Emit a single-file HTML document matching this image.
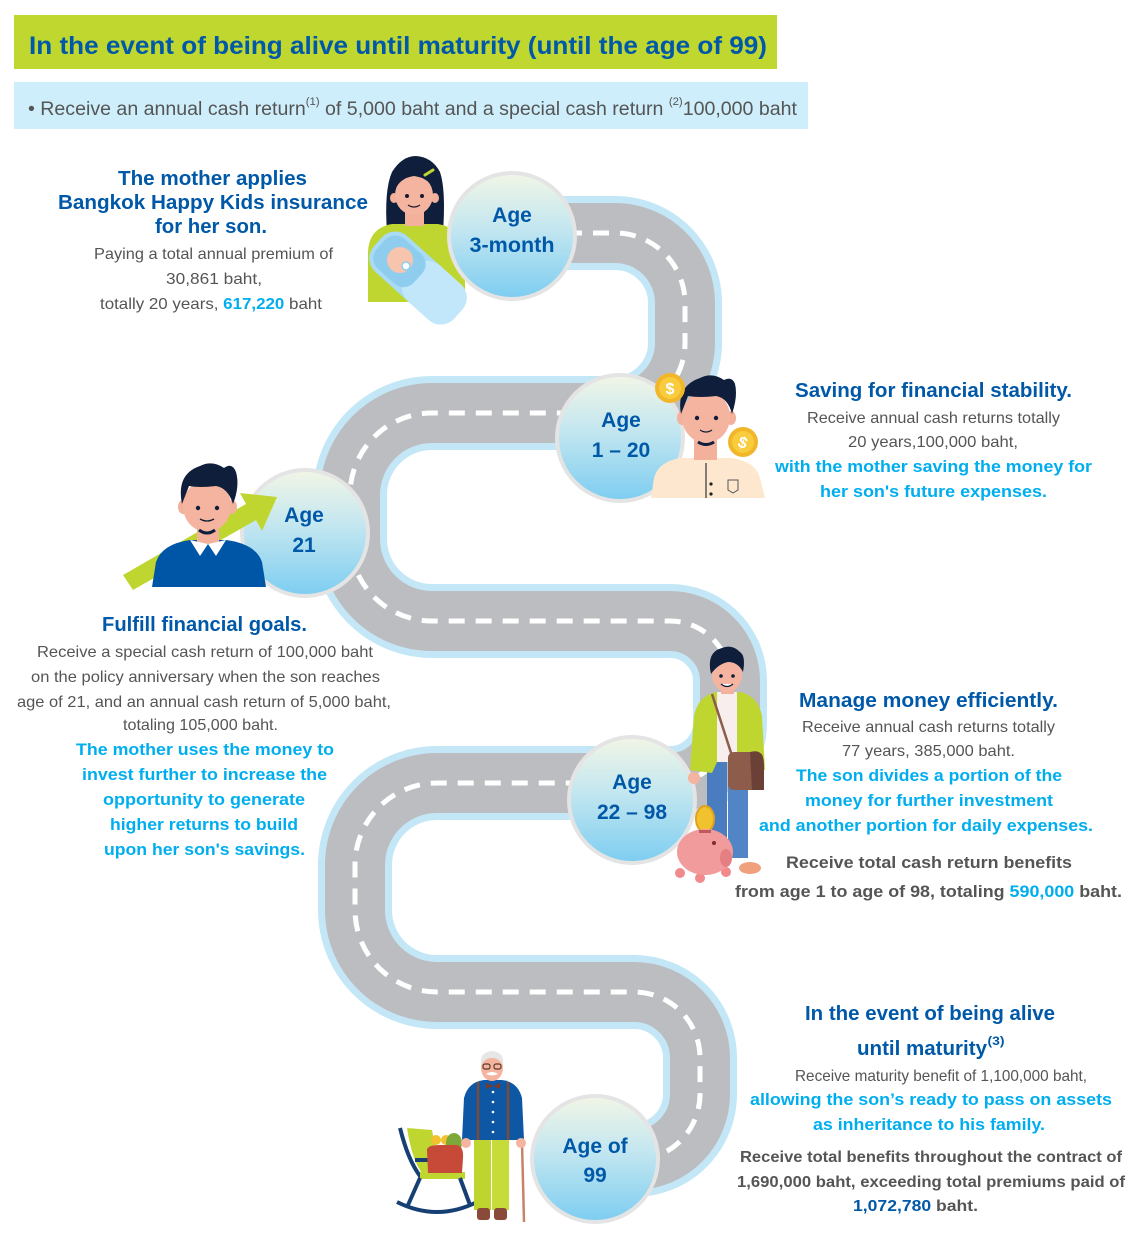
<!DOCTYPE html>
<html><head><meta charset="utf-8">
<style>
html,body{margin:0;padding:0;background:#fff;}
svg{display:block;}
text{font-family:"Liberation Sans",Arial,sans-serif;}
</style></head><body>
<svg width="1140" height="1260" viewBox="0 0 1140 1260" xmlns="http://www.w3.org/2000/svg">
<defs>
<linearGradient id="cg" x1="0" y1="0" x2="0" y2="1">
<stop offset="0" stop-color="#f2f6e6"/>
<stop offset="0.45" stop-color="#c2e6f0"/>
<stop offset="1" stop-color="#7dcdf1"/>
</linearGradient>
</defs>
<rect width="1140" height="1260" fill="#fff"/>

<!-- Header -->
<rect x="14" y="15" width="763" height="54" fill="#c0d72f"/>
<text x="398" y="54" font-size="25" font-weight="bold" fill="#0058a8" text-anchor="middle" textLength="738" lengthAdjust="spacingAndGlyphs">In the event of being alive until maturity (until the age of 99)</text>
<rect x="14" y="82" width="794" height="47" fill="#cdeefa"/>
<text x="28" y="115" font-size="19" fill="#555" textLength="769" lengthAdjust="spacingAndGlyphs">• Receive an annual cash return<tspan font-size="11" dy="-10">(1)</tspan><tspan dy="10"> of 5,000 baht and a special cash return </tspan><tspan font-size="11" dy="-10">(2)</tspan><tspan dy="10">100,000 baht</tspan></text>

<!-- Road -->
<g fill="none">
<path d="M512 233 H615 A70 70 0 0 1 685 303 V343 A70 70 0 0 1 615 413 H432 A82 82 0 0 0 350 495 V539 A82 82 0 0 0 432 621 H670 A60 60 0 0 1 730 681 V723 A60 60 0 0 1 670 783 H437 A82 82 0 0 0 355 865 V910 A82 82 0 0 0 437 992 H634 A66 66 0 0 1 700 1058 V1094 A66 66 0 0 1 634 1160 H595" stroke="#c4e7f7" stroke-width="74"/>
<path d="M512 233 H615 A70 70 0 0 1 685 303 V343 A70 70 0 0 1 615 413 H432 A82 82 0 0 0 350 495 V539 A82 82 0 0 0 432 621 H670 A60 60 0 0 1 730 681 V723 A60 60 0 0 1 670 783 H437 A82 82 0 0 0 355 865 V910 A82 82 0 0 0 437 992 H634 A66 66 0 0 1 700 1058 V1094 A66 66 0 0 1 634 1160 H595" stroke="#bcbdc0" stroke-width="60"/>
<path d="M512 233 H615 A70 70 0 0 1 685 303 V343 A70 70 0 0 1 615 413 H432 A82 82 0 0 0 350 495 V539 A82 82 0 0 0 432 621 H670 A60 60 0 0 1 730 681 V723 A60 60 0 0 1 670 783 H437 A82 82 0 0 0 355 865 V910 A82 82 0 0 0 437 992 H634 A66 66 0 0 1 700 1058 V1094 A66 66 0 0 1 634 1160 H595" stroke="#ffffff" stroke-width="5" stroke-dasharray="16 11"/>
</g>

<!-- Mother figure -->
<g>
<path d="M387 232 Q384 190 392 172 Q402 156 416 156 Q432 157 440 172 Q446 190 443 232 Z" fill="#0f1e3b"/>
<path d="M368 302 L368 252 Q369 228 392 224 L438 224 Q462 228 465 252 L465 302 Z" fill="#bfd630"/>
<rect x="405" y="206" width="19" height="20" fill="#f3b09b"/>
<ellipse cx="394" cy="198" rx="4" ry="5" fill="#f3b09b"/>
<ellipse cx="435" cy="198" rx="4" ry="5" fill="#f3b09b"/>
<ellipse cx="414" cy="195" rx="19" ry="20" fill="#f5b49f"/>
<path d="M394 192 Q392 166 414 164 Q437 166 435 192 Q430 178 414 176 Q399 178 394 192 Z" fill="#0f1e3b"/>
<line x1="425" y1="175" x2="433" y2="170" stroke="#bfd630" stroke-width="3" stroke-linecap="round"/>
<circle cx="407" cy="196" r="2" fill="#1a1a2e"/>
<circle cx="422" cy="196" r="2" fill="#1a1a2e"/>
<path d="M408 205 Q414 209 420 205" stroke="#1a1a2e" stroke-width="1.3" fill="none"/>
<g transform="translate(418,278) rotate(42)">
<rect x="-54" y="-24" width="108" height="48" rx="18" fill="#a9dbf5"/>
<rect x="-10" y="-24" width="64" height="48" rx="18" fill="#c3e7fa"/>
<rect x="-50" y="-20" width="50" height="40" rx="14" fill="#8fcdef"/>
</g>
<circle cx="400" cy="260" r="13" fill="#f7c4ad"/>
<circle cx="406" cy="266" r="4" fill="#fff" stroke="#8fcdef" stroke-width="1.5"/>
</g>

<!-- Boy 21 behind-circle? circle first -->
<g stroke="#e4e4e4" stroke-width="4" fill="url(#cg)">
<circle cx="512" cy="236" r="63"/>
<circle cx="305" cy="533" r="63"/>
<circle cx="632" cy="800" r="63"/>
<circle cx="595" cy="1159" r="63"/>
<circle cx="620" cy="438" r="63"/>
</g>

<!-- Circle labels -->
<g font-weight="bold" font-size="21" fill="#0058a8" text-anchor="middle">
<text x="512" y="222">Age</text>
<text x="512" y="252" textLength="85" lengthAdjust="spacingAndGlyphs">3-month</text>
<text x="621" y="427">Age</text>
<text x="621" y="457">1 – 20</text>
<text x="304" y="522">Age</text>
<text x="304" y="552">21</text>
<text x="632" y="789">Age</text>
<text x="632" y="819">22 – 98</text>
<text x="595" y="1153">Age of</text>
<text x="595" y="1182">99</text>
</g>

<!-- Boy 1-20 -->
<g>
<path d="M651 498 L654 478 Q658 462 680 458 L732 458 Q756 462 760 478 L765 498 Z" fill="#fde8cf"/>
<rect x="694" y="432" width="23" height="28" fill="#f3b09b"/>
<ellipse cx="682" cy="418" rx="5" ry="7" fill="#f3b09b"/>
<ellipse cx="731" cy="418" rx="5" ry="7" fill="#f3b09b"/>
<ellipse cx="706" cy="417" rx="24" ry="26" fill="#f5b49f"/>
<path d="M681 414 Q676 386 700 378 Q712 372 724 380 Q732 376 735 384 Q738 396 732 414 Q728 398 716 396 Q700 398 688 396 Z" fill="#0f1e3b"/>
<path d="M698 442 Q706 447 714 442" stroke="#0f1e3b" stroke-width="3" fill="none"/>
<circle cx="697" cy="418" r="2.2" fill="#0f1e3b"/>
<circle cx="716" cy="418" r="2.2" fill="#0f1e3b"/>
<path d="M700 430 Q706 434 712 430" stroke="#0f1e3b" stroke-width="1.3" fill="none"/>
<line x1="706" y1="463" x2="706" y2="498" stroke="#333" stroke-width="1.2"/>
<circle cx="711" cy="484" r="1.6" fill="#222"/>
<circle cx="711" cy="494" r="1.6" fill="#222"/>
<path d="M728 480 H738 V490 L733 493 L728 490 Z" fill="none" stroke="#555" stroke-width="1"/>
<circle cx="670" cy="388" r="15" fill="#f2b62b"/>
<circle cx="670" cy="388" r="11" fill="#f8cc3c"/>
<text x="670" y="394" font-size="16" font-weight="bold" fill="#fff" text-anchor="middle">$</text>
<circle cx="743" cy="442" r="15" fill="#f2b62b"/>
<circle cx="743" cy="442" r="11" fill="#f8cc3c"/>
<text x="743" y="448" font-size="16" font-weight="bold" fill="#fff" text-anchor="middle" transform="rotate(20 743 442)">$</text>
</g>

<!-- Boy 21 -->
<g>
<polygon points="123,575 246,504 240,493 277,497 262,531 256,520 133,590" fill="#bfd630"/>
<path d="M152 587 L156 562 Q162 544 190 540 L226 540 Q256 544 262 562 L266 587 Z" fill="#0056a6"/>
<rect x="197" y="522" width="22" height="22" fill="#f3b09b"/>
<polygon points="190,540 208,544 200,556" fill="#fff"/>
<polygon points="226,540 208,544 216,556" fill="#fff"/>
<ellipse cx="183" cy="507" rx="5" ry="7" fill="#f3b09b"/>
<ellipse cx="232" cy="507" rx="5" ry="7" fill="#f3b09b"/>
<ellipse cx="207" cy="506" rx="24" ry="26" fill="#f5b49f"/>
<path d="M182 504 Q176 474 200 466 Q212 460 224 468 Q232 462 236 472 Q240 486 233 504 Q228 488 216 486 Q200 488 189 486 Z" fill="#0f1e3b"/>
<path d="M199 530 Q207 536 215 530" stroke="#0f1e3b" stroke-width="3" fill="none"/>
<circle cx="198" cy="508" r="2.2" fill="#0f1e3b"/>
<circle cx="217" cy="508" r="2.2" fill="#0f1e3b"/>
<path d="M200 519 Q207 523 214 519" stroke="#0f1e3b" stroke-width="1.3" fill="none"/>
</g>

<!-- Young man 22-98 -->
<g>
<rect x="707" y="760" width="20" height="98" fill="#4a7cc0"/>
<rect x="728" y="760" width="20" height="98" fill="#5285c6"/>
<ellipse cx="750" cy="868" rx="11" ry="6" fill="#f0a07c"/>
<path d="M690 770 L694 716 Q698 696 716 692 L740 692 Q758 696 762 716 L765 770 L742 773 L738 760 L718 760 L712 773 Z" fill="#bfd630"/>
<rect x="717" y="692" width="20" height="70" fill="#f9eeee"/>
<line x1="712" y1="694" x2="734" y2="762" stroke="#8d5c4a" stroke-width="2.5"/>
<rect x="728" y="752" width="35" height="38" rx="6" fill="#8d5c4a"/>
<path d="M750 752 Q764 748 764 765 L764 790 L752 790 Z" fill="#6b4137"/>
<circle cx="694" cy="778" r="6" fill="#f5b49f"/>
<rect x="721" y="684" width="13" height="10" fill="#f3b09b"/>
<ellipse cx="727" cy="675" rx="15" ry="17" fill="#f5b49f"/>
<path d="M711 674 Q706 652 722 648 Q732 644 740 652 Q746 656 743 672 Q738 662 728 662 Q718 664 711 674 Z" fill="#0f1e3b"/>
<circle cx="721" cy="676" r="1.8" fill="#0f1e3b"/>
<circle cx="733" cy="676" r="1.8" fill="#0f1e3b"/>
<path d="M721 684 Q727 689 733 684" stroke="#0f1e3b" stroke-width="1.3" fill="#fff"/>
<ellipse cx="705" cy="819" rx="9" ry="13" fill="#f2c12e" stroke="#e0a21a" stroke-width="2"/>
<ellipse cx="680" cy="873" rx="5" ry="5" fill="#f08a8c"/>
<ellipse cx="700" cy="878" rx="5" ry="5" fill="#f08a8c"/>
<ellipse cx="726" cy="872" rx="5" ry="5" fill="#f08a8c"/>
<ellipse cx="705" cy="852" rx="28" ry="23" fill="#f29b9d"/>
<ellipse cx="726" cy="858" rx="6" ry="9" fill="#e57f82"/>
<rect x="699" y="830" width="12" height="3" fill="#c0585c"/>
<circle cx="714" cy="843" r="2" fill="#7a2e30"/>
</g>

<!-- Old man -->
<g>
<path d="M400 1128 Q408 1160 420 1176 L465 1176" stroke="#163f73" stroke-width="4" fill="none"/>
<path d="M407 1128 Q412 1160 422 1173 L440 1173 L432 1130 Z" fill="#bfd630"/>
<rect x="420" y="1172" width="45" height="7" fill="#bfd630"/>
<path d="M397 1202 Q437 1222 477 1202" stroke="#163f73" stroke-width="4" fill="none"/>
<line x1="420" y1="1178" x2="408" y2="1205" stroke="#163f73" stroke-width="4"/>
<line x1="460" y1="1178" x2="470" y2="1205" stroke="#163f73" stroke-width="4"/>
<line x1="415" y1="1160" x2="462" y2="1160" stroke="#163f73" stroke-width="4"/>
<circle cx="436" cy="1140" r="5" fill="#f2c12e"/>
<circle cx="446" cy="1140" r="5" fill="#f2c12e"/>
<ellipse cx="454" cy="1143" rx="8" ry="10" fill="#7ea83a"/>
<path d="M427 1150 Q427 1145 440 1145 L456 1145 Q464 1146 463 1158 L462 1173 L428 1173 Z" fill="#c74a38"/>
<line x1="522" y1="1142" x2="524" y2="1222" stroke="#c7836a" stroke-width="2.5"/>
<rect x="474" y="1138" width="17" height="72" fill="#bed52f"/>
<rect x="492" y="1138" width="17" height="72" fill="#c7dc3a"/>
<rect x="477" y="1208" width="13" height="12" rx="3" fill="#8a4a3a"/>
<rect x="494" y="1208" width="13" height="12" rx="3" fill="#8a4a3a"/>
<path d="M462 1140 L464 1098 Q468 1082 484 1080 L502 1080 Q518 1082 522 1098 L524 1140 Z" fill="#0d57a5"/>
<line x1="478" y1="1082" x2="478" y2="1140" stroke="#7a4a36" stroke-width="2.5"/>
<line x1="508" y1="1082" x2="508" y2="1140" stroke="#7a4a36" stroke-width="2.5"/>
<g fill="#fff"><circle cx="493" cy="1092" r="1.3"/><circle cx="493" cy="1102" r="1.3"/><circle cx="493" cy="1112" r="1.3"/><circle cx="493" cy="1122" r="1.3"/><circle cx="493" cy="1132" r="1.3"/></g>
<circle cx="466" cy="1143" r="5" fill="#f5b49f"/>
<circle cx="521" cy="1143" r="5" fill="#f5b49f"/>
<path d="M486 1083 L493 1086 L500 1083 L500 1089 L493 1086 L486 1089 Z" fill="#7a3a2a"/>
<ellipse cx="492" cy="1068" rx="11" ry="13" fill="#f5b49f"/>
<path d="M481 1066 Q479 1052 492 1051 Q505 1052 503 1066 Q500 1058 492 1058 Q484 1058 481 1066 Z" fill="#e6e6e6"/>
<rect x="483" y="1064" width="7" height="5" rx="2" fill="none" stroke="#5a3a2a" stroke-width="1.2"/>
<rect x="494" y="1064" width="7" height="5" rx="2" fill="none" stroke="#5a3a2a" stroke-width="1.2"/>
<path d="M486 1074 Q492 1070 498 1074 Q492 1077 486 1074 Z" fill="#fff"/>
</g>

<!-- Mother text block -->
<g text-anchor="middle" lengthAdjust="spacingAndGlyphs">
<text x="212.5" y="185" font-size="20" font-weight="bold" fill="#0058a8" textLength="189" lengthAdjust="spacingAndGlyphs">The mother applies</text>
<text x="213" y="209" font-size="20" font-weight="bold" fill="#0058a8" textLength="310" lengthAdjust="spacingAndGlyphs">Bangkok Happy Kids insurance</text>
<text x="211" y="233" font-size="20" font-weight="bold" fill="#0058a8" textLength="112" lengthAdjust="spacingAndGlyphs">for her son.</text>
<text x="213.5" y="259" font-size="16" fill="#555" textLength="239" lengthAdjust="spacingAndGlyphs">Paying a total annual premium of</text>
<text x="214" y="284" font-size="16" fill="#555" textLength="96" lengthAdjust="spacingAndGlyphs">30,861 baht,</text>
<text x="211" y="309" font-size="16" fill="#555" textLength="222" lengthAdjust="spacingAndGlyphs">totally 20 years, <tspan font-weight="bold" fill="#00aeef">617,220</tspan> baht</text>
</g>

<!-- Right block 1 -->
<g text-anchor="middle">
<text x="933.5" y="397" font-size="20" font-weight="bold" fill="#0058a8" textLength="277" lengthAdjust="spacingAndGlyphs">Saving for financial stability.</text>
<text x="933.5" y="423" font-size="16" fill="#555" textLength="253" lengthAdjust="spacingAndGlyphs">Receive annual cash returns totally</text>
<text x="933" y="447" font-size="16" fill="#555" textLength="170" lengthAdjust="spacingAndGlyphs">20 years,100,000 baht,</text>
<text x="933.5" y="472" font-size="17" font-weight="bold" fill="#00aeef" textLength="317" lengthAdjust="spacingAndGlyphs">with the mother saving the money for</text>
<text x="933.5" y="497" font-size="17" font-weight="bold" fill="#00aeef" textLength="227" lengthAdjust="spacingAndGlyphs">her son's future expenses.</text>
</g>

<!-- Left block 2 -->
<g text-anchor="middle">
<text x="204.5" y="631" font-size="20" font-weight="bold" fill="#0058a8" textLength="205" lengthAdjust="spacingAndGlyphs">Fulfill financial goals.</text>
<text x="205" y="657" font-size="16" fill="#555" textLength="336" lengthAdjust="spacingAndGlyphs">Receive a special cash return of 100,000 baht</text>
<text x="205.5" y="682" font-size="16" fill="#555" textLength="349" lengthAdjust="spacingAndGlyphs">on the policy anniversary when the son reaches</text>
<text x="204" y="707" font-size="16" fill="#555" textLength="374" lengthAdjust="spacingAndGlyphs">age of 21, and an annual cash return of 5,000 baht,</text>
<text x="200.5" y="730" font-size="16" fill="#555" textLength="155" lengthAdjust="spacingAndGlyphs">totaling 105,000 baht.</text>
<text x="205" y="755" font-size="17" font-weight="bold" fill="#00aeef" textLength="258" lengthAdjust="spacingAndGlyphs">The mother uses the money to</text>
<text x="204.5" y="780" font-size="17" font-weight="bold" fill="#00aeef" textLength="245" lengthAdjust="spacingAndGlyphs">invest further to increase the</text>
<text x="204" y="805" font-size="17" font-weight="bold" fill="#00aeef" textLength="202" lengthAdjust="spacingAndGlyphs">opportunity to generate</text>
<text x="204" y="830" font-size="17" font-weight="bold" fill="#00aeef" textLength="188" lengthAdjust="spacingAndGlyphs">higher returns to build</text>
<text x="204.5" y="855" font-size="17" font-weight="bold" fill="#00aeef" textLength="201" lengthAdjust="spacingAndGlyphs">upon her son's savings.</text>
</g>

<!-- Right block 2 -->
<g text-anchor="middle">
<text x="928.5" y="707" font-size="20" font-weight="bold" fill="#0058a8" textLength="259" lengthAdjust="spacingAndGlyphs">Manage money efficiently.</text>
<text x="928.5" y="732" font-size="16" fill="#555" textLength="253" lengthAdjust="spacingAndGlyphs">Receive annual cash returns totally</text>
<text x="928.5" y="756" font-size="16" fill="#555" textLength="173" lengthAdjust="spacingAndGlyphs">77 years, 385,000 baht.</text>
<text x="929" y="781" font-size="17" font-weight="bold" fill="#00aeef" textLength="266" lengthAdjust="spacingAndGlyphs">The son divides a portion of the</text>
<text x="929" y="806" font-size="17" font-weight="bold" fill="#00aeef" textLength="248" lengthAdjust="spacingAndGlyphs">money for further investment</text>
<text x="926" y="831" font-size="17" font-weight="bold" fill="#00aeef" textLength="334" lengthAdjust="spacingAndGlyphs">and another portion for daily expenses.</text>
<text x="929" y="868" font-size="17" font-weight="bold" fill="#555" textLength="286" lengthAdjust="spacingAndGlyphs">Receive total cash return benefits</text>
<text x="928.5" y="897" font-size="17" font-weight="bold" fill="#555" textLength="387" lengthAdjust="spacingAndGlyphs">from age 1 to age of 98, totaling <tspan fill="#00aeef">590,000</tspan> baht.</text>
</g>

<!-- Right block 3 -->
<g text-anchor="middle">
<text x="930" y="1020" font-size="20" font-weight="bold" fill="#0058a8" textLength="250" lengthAdjust="spacingAndGlyphs">In the event of being alive</text>
<text x="922" y="1055" font-size="20" font-weight="bold" fill="#0058a8" textLength="130" lengthAdjust="spacingAndGlyphs">until maturity</text>
<text x="996" y="1045" font-size="12" font-weight="bold" fill="#0058a8" textLength="17" lengthAdjust="spacingAndGlyphs">(3)</text>
<text x="941" y="1081" font-size="16" fill="#555" textLength="292" lengthAdjust="spacingAndGlyphs">Receive maturity benefit of 1,100,000 baht,</text>
<text x="931" y="1105" font-size="17" font-weight="bold" fill="#00aeef" textLength="362" lengthAdjust="spacingAndGlyphs">allowing the son’s ready to pass on assets</text>
<text x="929" y="1130" font-size="17" font-weight="bold" fill="#00aeef" textLength="232" lengthAdjust="spacingAndGlyphs">as inheritance to his family.</text>
<text x="931" y="1162" font-size="16" font-weight="bold" fill="#555" textLength="382" lengthAdjust="spacingAndGlyphs">Receive total benefits throughout the contract of</text>
<text x="931" y="1187" font-size="16" font-weight="bold" fill="#555" textLength="388" lengthAdjust="spacingAndGlyphs">1,690,000 baht, exceeding total premiums paid of</text>
<text x="915.5" y="1211" font-size="16" font-weight="bold" fill="#555" textLength="125" lengthAdjust="spacingAndGlyphs"><tspan fill="#0058a8">1,072,780</tspan> baht.</text>
</g>
</svg>
</body></html>
